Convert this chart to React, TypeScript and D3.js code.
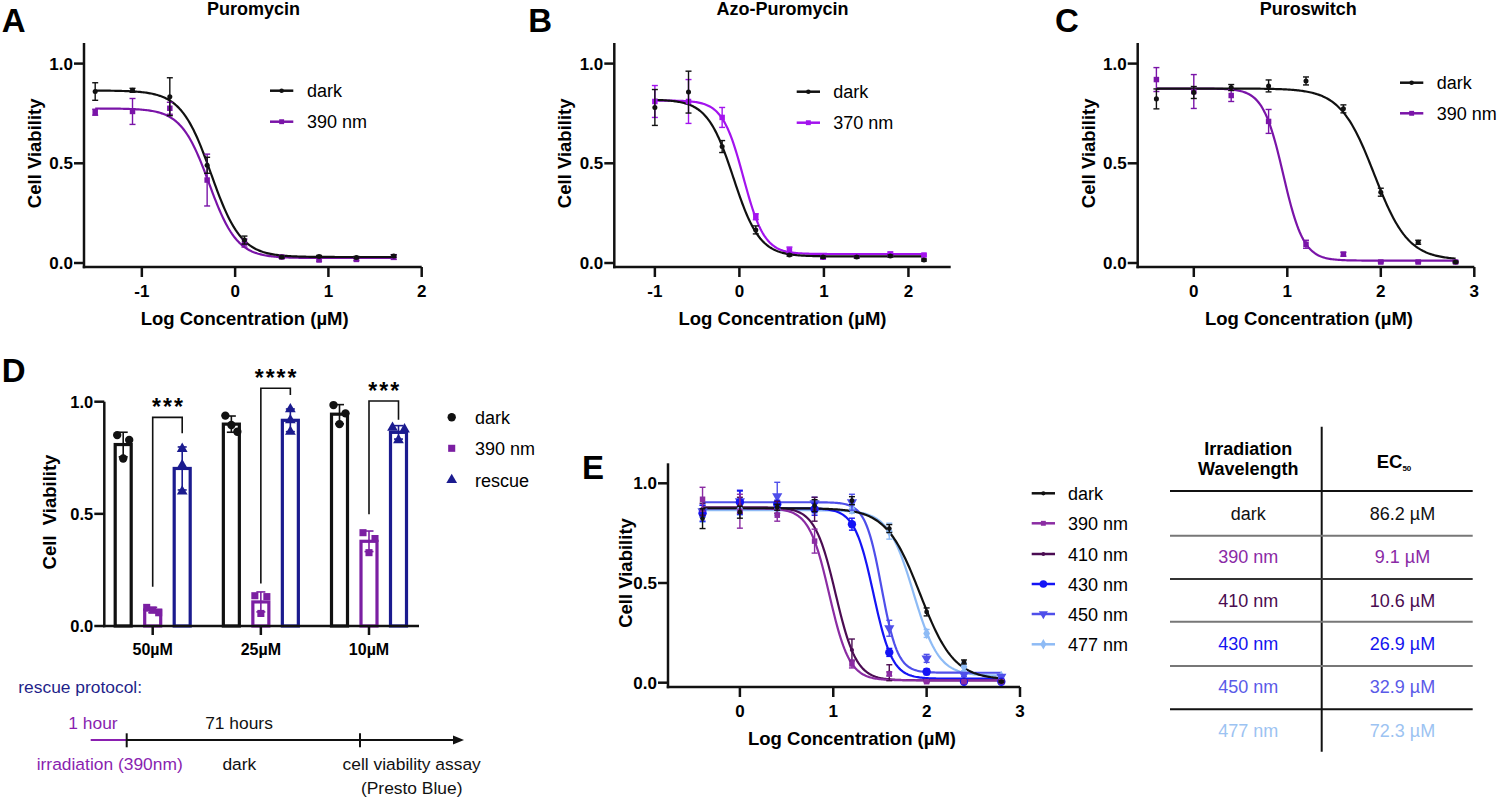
import React, { useEffect } from "react";
import * as d3 from "d3";

const FONT = "'Liberation Sans', Arial, Helvetica, sans-serif";

// ---------- Panel A : Puromycin ----------
const concA = [-1.5, -1.1, -0.7, -0.3, 0.1, 0.5, 0.9, 1.3, 1.7];
const darkA = [0.86, 0.866, 0.834, 0.49, 0.115, 0.03, 0.033, 0.028, 0.035];
const darkAErr = [0.044, 0.01, 0.095, 0.04, 0.02, 0.005, 0.005, 0.005, 0.006];
const uvA = [0.756, 0.76, 0.776, 0.416, 0.1, 0.03, 0.015, 0.018, 0.03];
const uvAErr = [0.015, 0.065, 0.03, 0.13, 0.02, 0.006, 0.006, 0.006, 0.012];
const fitDarkA = [0.865, 0.03, -0.258, 2.7];
const fitUvA = [0.775, 0.025, -0.28, 2.9];
const ticksA = [-1, 0, 1, 2];

// ---------- Panel B : Azo-Puromycin ----------
const concB = [-1, -0.602, -0.204, 0.194, 0.592, 0.99, 1.388, 1.786, 2.184];
const darkB = [0.78, 0.857, 0.584, 0.166, 0.04, 0.03, 0.03, 0.035, 0.015];
const darkBErr = [0.09, 0.105, 0.03, 0.02, 0.005, 0.005, 0.005, 0.005, 0.005];
const uvB = [0.81, 0.81, 0.73, 0.232, 0.065, 0.03, 0.035, 0.045, 0.04];
const uvBErr = [0.08, 0.11, 0.05, 0.015, 0.015, 0.01, 0.005, 0.01, 0.005];
const fitDarkB = [0.82, 0.033, -0.07, 2.8];
const fitUvB = [0.815, 0.045, 0.047, 3.5];
const ticksB = [-1, 0, 1, 2];

// ---------- Panel C : Puroswitch (also dark / 390 nm in E) ----------
const concC = [-0.4, 0, 0.4, 0.8, 1.2, 1.6, 2.0, 2.4, 2.8];
const darkC = [0.823, 0.855, 0.88, 0.888, 0.913, 0.773, 0.355, 0.104, 0.005];
const darkCErr = [0.05, 0.03, 0.015, 0.03, 0.02, 0.02, 0.02, 0.01, 0.004];
const uvC = [0.92, 0.86, 0.84, 0.71, 0.094, 0.044, 0.005, 0.005, 0.005];
const uvCErr = [0.06, 0.085, 0.03, 0.06, 0.02, 0.01, 0.004, 0.004, 0.004];
const fitDarkC = [0.875, 0.015, 1.93, 2.4];
const fitUvC = [0.875, 0.012, 0.957, 4.0];
const ticksC = [0, 1, 2, 3];

// ---------- Panel E : wavelengths ----------
const e410 = [0.87, 0.89, 0.88, 0.87, 0.164, 0.05, 0.01, 0.01, 0.01];
const e410Err = [0.03, 0.04, 0.03, 0.06, 0.055, 0.04, 0.005, 0.005, 0.005];
const fit410 = [0.88, 0.012, 1.025, 3.9];
const e430 = [0.85, 0.905, 0.895, 0.87, 0.795, 0.152, 0.055, 0.005, 0.005];
const e430Err = [0.04, 0.06, 0.02, 0.03, 0.03, 0.02, 0.015, 0.005, 0.005];
const fit430 = [0.875, 0.02, 1.43, 4.3];
const e450 = [0.86, 0.91, 0.935, 0.9, 0.905, 0.273, 0.122, 0.04, 0.03];
const e450Err = [0.03, 0.05, 0.07, 0.03, 0.04, 0.04, 0.02, 0.01, 0.01];
const fit450 = [0.905, 0.05, 1.517, 5.0];
const e477 = [0.835, 0.87, 0.87, 0.88, 0.87, 0.76, 0.247, 0.08, 0.03];
const e477Err = [0.03, 0.03, 0.03, 0.03, 0.02, 0.04, 0.02, 0.02, 0.01];
const fit477 = [0.865, 0.035, 1.859, 3.2];

// ---------- Panel D : rescue bars ----------
const groupsD = ["50\u00b5M", "25\u00b5M", "10\u00b5M"];
const darkD = [[0.851, 0.829, 0.747], [0.938, 0.896, 0.866], [0.985, 0.948, 0.9]];
const uvD = [[0.059, 0.083, 0.071], [0.135, 0.131, 0.056], [0.416, 0.39, 0.327]];
const rescueD = [[0.79, 0.717, 0.6], [0.967, 0.918, 0.866], [0.884, 0.877, 0.829]];
const sigLabels = ["***", "****", "***"];
const sigTop = [0.93, 1.06, 1.003];
const sigLeftEnd = [0.175, 0.19, 0.498];
const sigRightEnd = [0.859, 1.03, 0.92];
const legendD = ["dark", "390 nm", "rescue"];

// ---------- Table ----------
const tableWavelengths = ["dark", "390 nm", "410 nm", "430 nm", "450 nm", "477 nm"];
const tableEC50 = ["86.2 \u00b5M", "9.1 \u00b5M", "10.6 \u00b5M", "26.9 \u00b5M", "32.9 \u00b5M", "72.3 \u00b5M"];
const tableColors = ["#111111", "#8a2aa6", "#4a0c50", "#1414f0", "#5a5ae8", "#9cc3f2"];

const C_PURPLE = "#7a14a8";
const C_VIOLET = "#a313ee";
const C_NAVY = "#1b1b8f";
const C_E390 = "#8b2ca3";
const C_E410 = "#4b0c52";
const C_E430 = "#1414f5";
const C_E450 = "#4f4fea";
const C_E477 = "#8ebbf5";

function logistic(fit: number[], x: number) {
  const [top, bottom, c, h] = fit;
  return bottom + (top - bottom) / (1 + Math.pow(10, (x - c) * h));
}

const SYM: Record<string, any> = {
  circle: d3.symbolCircle,
  square: d3.symbolSquare,
  triangle: d3.symbolTriangle,
  tridown: d3.symbolTriangle,
  diamond: d3.symbolDiamond,
  cross: d3.symbolCross,
};

function Sym({ shape, x, y, size, color }: any) {
  const p = d3.symbol().type(SYM[shape]).size(size)() as string;
  return (
    <path
      d={p}
      transform={`translate(${x},${y})${shape === "tridown" ? " rotate(180)" : ""}`}
      fill={color}
    />
  );
}

type Series = {
  name: string;
  conc: number[];
  vals: number[];
  errs: number[];
  fit: number[];
  color: string;
  shape: string;
  size: number;
};

type PanelProps = {
  left: number;
  right: number;
  y0: number;
  y1: number;
  axisY: number;
  yTop: number;
  xDomain: [number, number];
  xTicks: number[];
  series: Series[];
  title?: string;
  titleX?: number;
  letter: string;
  letterX: number;
  letterY: number;
  legX0: number;
  legX1: number;
  legTextX: number;
  legYs: number[];
  xLabelX: number;
  yLabelOff?: number;
};

function DosePanel(p: PanelProps) {
  const x = d3.scaleLinear().domain(p.xDomain).range([p.left, p.right]);
  const y = d3.scaleLinear().domain([0, 1]).range([p.y0, p.y1]);
  const yTicks = [0, 0.5, 1];
  const fmt = d3.format(".1f");
  const order = [...p.series].reverse();
  const yOff = p.yLabelOff ?? 43;
  return (
    <g>
      {p.title && (
        <text x={p.titleX} y={15} textAnchor="middle" fontSize={18} fontWeight="bold">
          {p.title}
        </text>
      )}
      <text x={p.letterX} y={p.letterY} fontSize={33} fontWeight="bold">
        {p.letter}
      </text>
      <g stroke="#111" strokeWidth={2.5} fill="none">
        <line x1={p.left} x2={p.left} y1={p.yTop} y2={p.axisY + 1.25} />
        <line x1={p.left - 1.25} x2={p.right} y1={p.axisY} y2={p.axisY} />
        {yTicks.map((t) => (
          <line key={"yt" + t} x1={p.left - 10} x2={p.left} y1={y(t)} y2={y(t)} />
        ))}
        {p.xTicks.map((t) => (
          <line key={"xt" + t} x1={x(t)} x2={x(t)} y1={p.axisY} y2={p.axisY + 10} />
        ))}
      </g>
      {yTicks.map((t) => (
        <text key={"yl" + t} x={p.left - 11} y={y(t) + 6} textAnchor="end" fontSize={17} fontWeight="bold">
          {fmt(t)}
        </text>
      ))}
      {p.xTicks.map((t) => (
        <text key={"xl" + t} x={x(t)} y={p.axisY + 30} textAnchor="middle" fontSize={17} fontWeight="bold">
          {String(t)}
        </text>
      ))}
      <text x={p.xLabelX} y={p.axisY + 58} textAnchor="middle" fontSize={18.5} fontWeight="bold">
        Log Concentration (µM)
      </text>
      <text
        transform={`translate(${p.left - yOff},${(p.y0 + p.y1) / 2 - 10}) rotate(-90)`}
        textAnchor="middle"
        fontSize={18.5}
        fontWeight="bold"
      >
        Cell Viability
      </text>
      {order.map((s) => {
        const [lo, hi] = d3.extent(s.conc) as [number, number];
        const xs = d3.range(0, 241).map((i) => lo + ((hi - lo) * i) / 240);
        const path = d3
          .line<number>()
          .x((v) => x(v))
          .y((v) => y(logistic(s.fit, v)))(xs) as string;
        return <path key={"c" + s.name} d={path} fill="none" stroke={s.color} strokeWidth={2.2} />;
      })}
      {order.map((s) => (
        <g key={"p" + s.name}>
          {s.conc.map((c, i) => {
            const cx = x(c);
            const hiY = y(s.vals[i] + s.errs[i]);
            const loY = y(s.vals[i] - s.errs[i]);
            return (
              <g key={i} stroke={s.color} strokeWidth={1.4}>
                <line x1={cx} x2={cx} y1={loY} y2={hiY} />
                <line x1={cx - 3} x2={cx + 3} y1={hiY} y2={hiY} />
                <line x1={cx - 3} x2={cx + 3} y1={loY} y2={loY} />
              </g>
            );
          })}
          {s.conc.map((c, i) => (
            <Sym key={"m" + i} shape={s.shape} x={x(c)} y={y(s.vals[i])} size={s.size} color={s.color} />
          ))}
        </g>
      ))}
      {p.series.map((s, i) => (
        <g key={"lg" + s.name}>
          <line x1={p.legX0} x2={p.legX1} y1={p.legYs[i]} y2={p.legYs[i]} stroke={s.color} strokeWidth={2.5} />
          <Sym shape={s.shape} x={(p.legX0 + p.legX1) / 2} y={p.legYs[i]} size={s.size * 0.8} color={s.color} />
          <text x={p.legTextX} y={p.legYs[i] + 6.5} fontSize={18}>
            {s.name}
          </text>
        </g>
      ))}
    </g>
  );
}

function spread(vals: number[], yScale: (v: number) => number, thresh = 10) {
  const idx = vals.map((_, i) => i).sort((a, b) => vals[b] - vals[a]);
  const offs = new Array(vals.length).fill(0);
  let cluster: number[] = [];
  const flush = () => {
    const n = cluster.length;
    cluster.forEach((k, j) => {
      offs[k] = n > 1 ? -6 + (12 * j) / (n - 1) : 0;
    });
    cluster = [];
  };
  idx.forEach((k, j) => {
    if (j > 0 && Math.abs(yScale(vals[k]) - yScale(vals[idx[j - 1]])) >= thresh) flush();
    cluster.push(k);
  });
  flush();
  return offs;
}

function PanelD() {
  const y = d3.scaleLinear().domain([0, 1]).range([626, 401.7]);
  const gx = d3.scalePoint<string>().domain(groupsD).range([152.7, 369]);
  const left = 104.3;
  const right = 419;
  const barOff = 29.5;
  const sets = [
    { vals: darkD, color: "#111111", shape: "circle", size: 55, off: -barOff },
    { vals: uvD, color: "#7b1fa2", shape: "square", size: 50, off: 0 },
    { vals: rescueD, color: C_NAVY, shape: "triangle", size: 50, off: barOff },
  ];
  const fmt = d3.format(".1f");
  const barW = 16;
  return (
    <g>
      <text x={1.7} y={381.7} fontSize={33} fontWeight="bold">D</text>
      {sets.map((s, si) =>
        groupsD.map((g, gi) => {
          const cx = (gx(g) as number) + s.off;
          const m = d3.mean(s.vals[gi]) as number;
          const sd = d3.deviation(s.vals[gi]) as number;
          const offs = spread(s.vals[gi], y);
          return (
            <g key={si + "-" + gi}>
              <rect x={cx - barW / 2} y={y(m)} width={barW} height={y(0) - y(m)} fill="#fff" stroke={s.color} strokeWidth={3.2} />
              <g stroke={s.color} strokeWidth={1.6}>
                <line x1={cx} x2={cx} y1={y(m - sd)} y2={y(m + sd)} />
                <line x1={cx - 4.5} x2={cx + 4.5} y1={y(m + sd)} y2={y(m + sd)} />
                <line x1={cx - 4.5} x2={cx + 4.5} y1={y(m - sd)} y2={y(m - sd)} />
              </g>
              {s.vals[gi].map((v, k) => (
                <Sym key={k} shape={s.shape} x={cx + offs[k]} y={y(v)} size={s.size} color={s.color} />
              ))}
            </g>
          );
        })
      )}
      <g stroke="#111" strokeWidth={2.5}>
        <line x1={left} x2={left} y1={y(1)} y2={y(0) + 1.25} />
        <line x1={left - 1.25} x2={right} y1={y(0)} y2={y(0)} />
        {[0, 0.5, 1].map((t) => (
          <line key={t} x1={left - 10} x2={left} y1={y(t)} y2={y(t)} />
        ))}
        {groupsD.map((g) => (
          <line key={g} x1={gx(g) as number} x2={gx(g) as number} y1={y(0)} y2={y(0) + 9} />
        ))}
      </g>
      {[0, 0.5, 1].map((t) => (
        <text key={t} x={left - 11} y={y(t) + 6} textAnchor="end" fontSize={16.5} fontWeight="bold">
          {fmt(t)}
        </text>
      ))}
      {groupsD.map((g) => (
        <text key={g} x={gx(g) as number} y={655} textAnchor="middle" fontSize={16} fontWeight="bold">
          {g}
        </text>
      ))}
      <text
        transform={`translate(55.5,512) rotate(-90)`}
        textAnchor="middle"
        fontSize={18.5}
        fontWeight="bold"
        style={{ whiteSpace: "pre" }}
        xmlSpace="preserve"
      >
        {"Cell  Viability"}
      </text>
      {groupsD.map((g, gi) => {
        const xl = gx(g) as number;
        const xr = xl + barOff;
        return (
          <g key={"sig" + g}>
            <path
              d={`M${xl},${y(sigLeftEnd[gi])}V${y(sigTop[gi])}H${xr}V${y(sigRightEnd[gi])}`}
              fill="none"
              stroke="#111"
              strokeWidth={1.6}
            />
            <text x={(xl + xr) / 2 + 1} y={y(sigTop[gi]) - 2} textAnchor="middle" fontSize={23} fontWeight="bold" letterSpacing={2}>
              {sigLabels[gi]}
            </text>
          </g>
        );
      })}
      {sets.map((s, i) => {
        const ly = [417.3, 448.3, 480][i];
        return (
          <g key={"ld" + i}>
            <Sym shape={s.shape} x={451.7} y={ly} size={s.size} color={s.color} />
            <text x={475} y={ly + 6.5} fontSize={18}>
              {legendD[i]}
            </text>
          </g>
        );
      })}
    </g>
  );
}

function Protocol() {
  return (
    <g fontSize={17.4}>
      <text x={18.3} y={693} fill="#1f1f8a">rescue protocol:</text>
      <text x={68.3} y={729.3} fill="#8a1fb0">1 hour</text>
      <text x={239} y={729.3} textAnchor="middle" fill="#111">71 hours</text>
      <line x1={90.7} x2={126.7} y1={740} y2={740} stroke="#8a1fb0" strokeWidth={2} />
      <line x1={126.7} x2={456} y1={740} y2={740} stroke="#111" strokeWidth={2} />
      <path d="M453,735.5L464,740L453,744.5Z" fill="#111" />
      <line x1={126.7} x2={126.7} y1={733.3} y2={747.3} stroke="#111" strokeWidth={2} />
      <line x1={360} x2={360} y1={733.3} y2={747.3} stroke="#111" strokeWidth={2} />
      <text x={109.7} y={770} textAnchor="middle" fill="#8a1fb0">irradiation (390nm)</text>
      <text x={239.3} y={770} textAnchor="middle" fill="#111">dark</text>
      <text x={411.7} y={770} textAnchor="middle" fill="#111">cell viability assay</text>
      <text x={411.7} y={794} textAnchor="middle" fill="#111">(Presto Blue)</text>
    </g>
  );
}

function EC50Table() {
  const rowYs = [520, 562.7, 606.7, 650, 693.3, 737.3];
  const lineYs = [491, 535.7, 579, 621.7, 666, 709.3];
  const lineCols = ["#111", "#777", "#333", "#777", "#777", "#111"];
  return (
    <g>
      <line x1={1321.7} x2={1321.7} y1={426.7} y2={751.7} stroke="#111" strokeWidth={2} />
      {lineYs.map((ly, i) => (
        <line key={i} x1={1170} x2={1472.7} y1={ly} y2={ly} stroke={lineCols[i]} strokeWidth={2} />
      ))}
      <text x={1248.3} y={455} textAnchor="middle" fontSize={18} fontWeight="bold">Irradiation</text>
      <text x={1248.3} y={475} textAnchor="middle" fontSize={18} fontWeight="bold">Wavelength</text>
      <text x={1376.7} y={468.3} fontSize={18.5} fontWeight="bold">
        EC<tspan fontSize={8} dy={3}>50</tspan>
      </text>
      {tableWavelengths.map((w, i) => (
        <g key={w} fill={tableColors[i]} fontSize={18}>
          <text x={1248.3} y={rowYs[i]} textAnchor="middle">{w}</text>
          <text x={1402.5} y={rowYs[i]} textAnchor="middle">{tableEC50[i]}</text>
        </g>
      ))}
    </g>
  );
}

export default function App() {
  useEffect(() => {
    document.body.style.margin = "0";
  }, []);

  const seriesA: Series[] = [
    { name: "dark", conc: concA, vals: darkA, errs: darkAErr, fit: fitDarkA, color: "#111111", shape: "circle", size: 20 },
    { name: "390 nm", conc: concA, vals: uvA, errs: uvAErr, fit: fitUvA, color: C_PURPLE, shape: "square", size: 30 },
  ];
  const seriesB: Series[] = [
    { name: "dark", conc: concB, vals: darkB, errs: darkBErr, fit: fitDarkB, color: "#111111", shape: "circle", size: 20 },
    { name: "370 nm", conc: concB, vals: uvB, errs: uvBErr, fit: fitUvB, color: C_VIOLET, shape: "square", size: 30 },
  ];
  const seriesC: Series[] = [
    { name: "dark", conc: concC, vals: darkC, errs: darkCErr, fit: fitDarkC, color: "#111111", shape: "circle", size: 20 },
    { name: "390 nm", conc: concC, vals: uvC, errs: uvCErr, fit: fitUvC, color: C_PURPLE, shape: "square", size: 30 },
  ];
  const seriesE: Series[] = [
    { name: "dark", conc: concC, vals: darkC, errs: darkCErr, fit: fitDarkC, color: "#111111", shape: "circle", size: 18 },
    { name: "390 nm", conc: concC, vals: uvC, errs: uvCErr, fit: fitUvC, color: C_E390, shape: "square", size: 30 },
    { name: "410 nm", conc: concC, vals: e410, errs: e410Err, fit: fit410, color: C_E410, shape: "circle", size: 14 },
    { name: "430 nm", conc: concC, vals: e430, errs: e430Err, fit: fit430, color: C_E430, shape: "circle", size: 55 },
    { name: "450 nm", conc: concC, vals: e450, errs: e450Err, fit: fit450, color: C_E450, shape: "tridown", size: 45 },
    { name: "477 nm", conc: concC, vals: e477, errs: e477Err, fit: fit477, color: C_E477, shape: "diamond", size: 40 },
  ];

  return (
    <svg
      width={1500}
      height={799}
      viewBox="0 0 1500 799"
      style={{ position: "absolute", left: 0, top: 0, display: "block" }}
      fontFamily={FONT}
    >
      <rect width={1500} height={799} fill="#ffffff" />
      <DosePanel
        left={84} right={421.7} y0={263} y1={63.6} axisY={267} yTop={43}
        xDomain={[-1.62, 2]} xTicks={ticksA} series={seriesA}
        title="Puromycin" titleX={253.5} letter="A" letterX={1.7} letterY={32.3}
        legX0={270} legX1={293.3} legTextX={307} legYs={[90.7, 121.7]} xLabelX={244.7}
      />
      <DosePanel
        left={614.3} right={950.7} y0={263} y1={63.6} axisY={267} yTop={43}
        xDomain={[-1.48, 2.5]} xTicks={ticksB} series={seriesB}
        title="Azo-Puromycin" titleX={782.5} letter="B" letterX={528.3} letterY={32.3}
        legX0={796.7} legX1={820} legTextX={833.3} legYs={[91.7, 122.7]} xLabelX={782.5}
      />
      <DosePanel
        left={1137.7} right={1474.3} y0={263} y1={63.6} axisY={267} yTop={43}
        xDomain={[-0.6, 3]} xTicks={ticksC} series={seriesC}
        title="Puroswitch" titleX={1308.3} letter="C" letterX={1055} letterY={32.3}
        legX0={1400} legX1={1423.3} legTextX={1436.7} legYs={[82.7, 113.3]} xLabelX={1309}
      />
      <PanelD />
      <Protocol />
      <DosePanel
        left={668} right={1020} y0={682.7} y1={483.3} axisY={687} yTop={463.3}
        xDomain={[-0.77, 3]} xTicks={ticksC} series={seriesE}
        letter="E" letterX={582} letterY={479}
        legX0={1031.7} legX1={1055} legTextX={1068}
        legYs={[493.3, 523.3, 554, 584, 614, 644.3]} xLabelX={852} yLabelOff={36}
      />
      <EC50Table />
    </svg>
  );
}
